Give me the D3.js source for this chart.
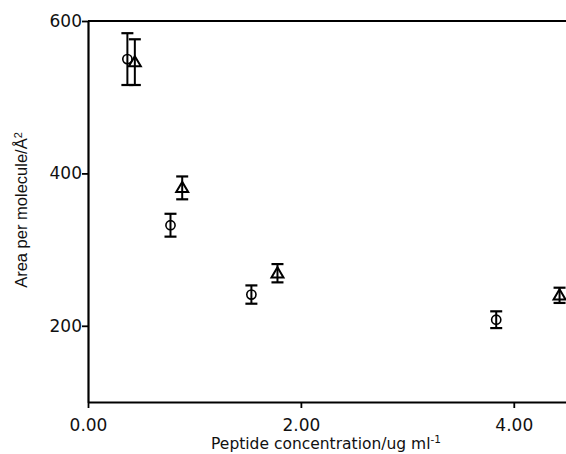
<!DOCTYPE html>
<html>
<head>
<meta charset="utf-8">
<script src="https://cdn.jsdelivr.net/npm/d3@7"></script>
<style>
  body { margin: 0; background: #fff; }
  svg { display: block; }
</style>
</head>
<body>
<div id="chart"></div>
<script>
// Data
const circleX   = [0.37, 0.775, 1.535, 3.835];
const circleY   = [550, 332, 241, 208];
const circleErr = [34, 15, 12, 11];

const triX   = [0.44, 0.885, 1.78, 4.43];
const triY   = [546, 381, 269, 240];
const triErr = [30, 15, 12, 10];

const xTicks = [0, 2, 4];
const yTicks = [200, 400, 600];

const W = 566, H = 454;
const margin = { top: 21, right: 0, bottom: 52, left: 88 };
const width = W - margin.left - margin.right;
const height = H - margin.top - margin.bottom;

const svg = d3.select("#chart")
  .append("svg")
  .attr("width", W)
  .attr("height", H);

const g = svg.append("g")
  .attr("transform", `translate(${margin.left},${margin.top})`);

const x = d3.scaleLinear().domain([0, 4.5]).range([0, 479]);
const y = d3.scaleLinear().domain([100, 600]).range([height, 0]);

// x axis
const xAxis = g.append("g")
  .attr("transform", `translate(0,${height})`)
  .call(d3.axisBottom(x).tickValues(xTicks).tickFormat(d3.format(".2f")).tickSize(6).tickSizeOuter(0));
xAxis.select(".domain").attr("stroke-width", 2.2);
xAxis.selectAll(".tick line").attr("stroke-width", 1.8);
xAxis.selectAll(".tick text")
  .attr("font-family", "DejaVu Sans")
  .attr("font-size", 17)
  .attr("fill", "#111")
  .attr("dy", "1.15em");

// y axis
const yAxis = g.append("g")
  .call(d3.axisLeft(y).tickValues(yTicks).tickSize(6).tickSizeOuter(0));
yAxis.select(".domain").attr("stroke-width", 2.2);
yAxis.selectAll(".tick line").attr("stroke-width", 1.8);
yAxis.selectAll(".tick text")
  .attr("font-family", "DejaVu Sans")
  .attr("font-size", 17)
  .attr("fill", "#111")
  .attr("x", -6);

// top frame line
g.append("line")
  .attr("x1", 0).attr("x2", width)
  .attr("y1", y(600)).attr("y2", y(600))
  .attr("stroke", "#000").attr("stroke-width", 2.2);

// error bars + markers
function drawSeries(xs, ys, errs, shape) {
  const pts = xs.map((d, i) => ({ x: d, y: ys[i], e: errs[i] }));
  const grp = g.append("g");
  const cap = 6;
  pts.forEach(p => {
    const cx = x(p.x);
    grp.append("line")
      .attr("x1", cx).attr("x2", cx)
      .attr("y1", y(p.y - p.e)).attr("y2", y(p.y + p.e))
      .attr("stroke", "#000").attr("stroke-width", 2);
    [p.y - p.e, p.y + p.e].forEach(v => {
      grp.append("line")
        .attr("x1", cx - cap).attr("x2", cx + cap)
        .attr("y1", y(v)).attr("y2", y(v))
        .attr("stroke", "#000").attr("stroke-width", 2.2);
    });
    if (shape === "circle") {
      grp.append("circle")
        .attr("cx", cx).attr("cy", y(p.y)).attr("r", 4.6)
        .attr("fill", "none").attr("stroke", "#000").attr("stroke-width", 1.6);
    } else {
      const s = 6;
      grp.append("path")
        .attr("d", `M${cx},${y(p.y) - s}L${cx + s},${y(p.y) + s * 0.7}L${cx - s},${y(p.y) + s * 0.7}Z`)
        .attr("fill", "none").attr("stroke", "#000").attr("stroke-width", 2);
    }
  });
}
drawSeries(circleX, circleY, circleErr, "circle");
drawSeries(triX, triY, triErr, "triangle");

// axis titles
const xTitle = svg.append("text")
  .attr("x", 326).attr("y", 449)
  .attr("text-anchor", "middle")
  .attr("font-family", "DejaVu Sans, sans-serif")
  .attr("font-size", 15.5)
  .attr("fill", "#111")
  .text("Peptide concentration/ug ml");
xTitle.append("tspan")
  .attr("dy", -6).attr("font-size", 10.5)
  .text("-1");

const yTitle = svg.append("text")
  .attr("transform", "translate(27,210) rotate(-90)")
  .attr("text-anchor", "middle")
  .attr("font-family", "Liberation Sans, Arial, sans-serif")
  .attr("font-size", 16.5)
  .attr("fill", "#111")
  .text("Area per molecule/Å");
yTitle.append("tspan")
  .attr("dy", -5).attr("font-size", 11)
  .text("2");
</script>
</body>
</html>
